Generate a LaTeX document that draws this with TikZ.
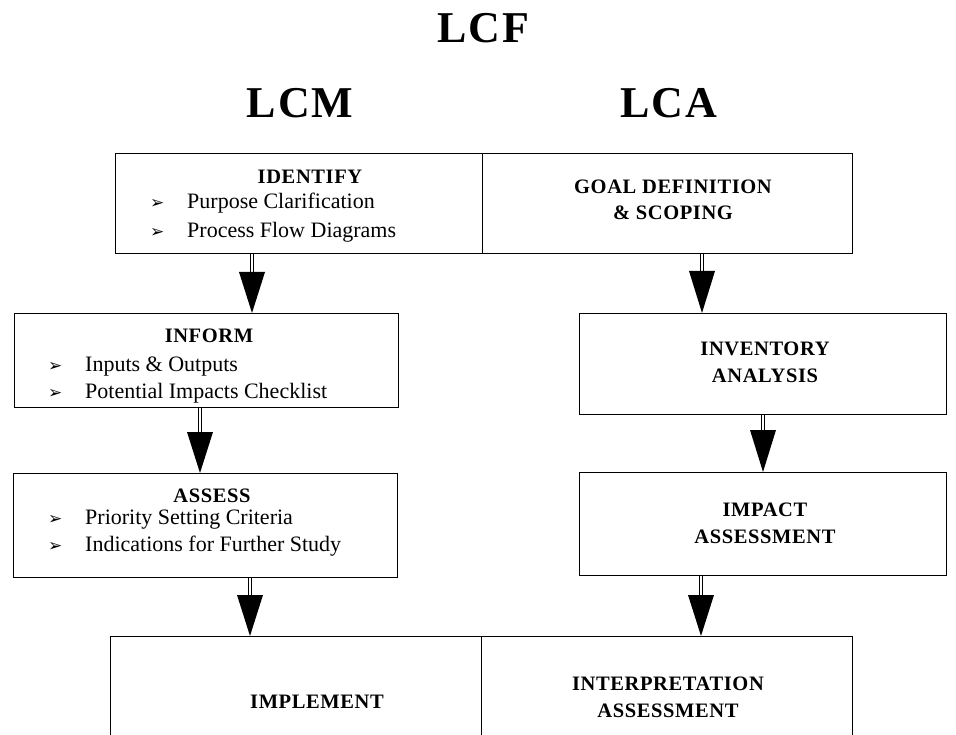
\documentclass[tikz,border=0pt]{standalone}
\usepackage{fontspec}
\setmainfont{Liberation Serif}
\newfontfamily\symfont{DejaVu Sans}
\usetikzlibrary{calc}
\tikzset{
  box/.style={draw, line width=1.3pt, inner sep=0pt, anchor=north west},
  bigtitle/.style={font=\fontsize{44}{48}\selectfont\bfseries, inner sep=0pt},
  headtxt/.style={font=\fontsize{20.5}{26.5}\selectfont\bfseries\addfontfeatures{LetterSpace=3}, inner sep=0pt, anchor=base, align=center},
  itemtxt/.style={font=\fontsize{22}{24}\selectfont, inner sep=0pt, anchor=base west},
  shaft/.style={double, double distance=2.6pt, line width=0.7pt},
  tiphead/.style={fill=black},
}
\newcommand{\bul}{\makebox[37pt][l]{\symfont\fontsize{17}{17}\selectfont ➢}}
\begin{document}
\begin{tikzpicture}[x=1pt,y=-1pt]
\clip (0,0) rectangle (956,735);
\useasboundingbox (0,0) rectangle (956,735);

% titles
\node[bigtitle] (lcf) at (483,28) {L\hspace{2pt}C\hspace{2pt}F};
\node[bigtitle] (lcm) at (300,103) {L\hspace{2pt}C\hspace{2pt}M};
\node[bigtitle] (lca) at (669,103) {L\hspace{2pt}C\hspace{2pt}A};

% boxes
\node[box, minimum width=367pt, minimum height=100pt] (identify) at (115,153) {};
\node[box, minimum width=370pt, minimum height=100pt] (goal) at (482,153) {};
\node[box, minimum width=384pt, minimum height=94pt] (inform) at (14,313) {};
\node[box, minimum width=384pt, minimum height=104pt] (assess) at (13,473) {};
\node[box, minimum width=367pt, minimum height=101pt] (inventory) at (579,313) {};
\node[box, minimum width=367pt, minimum height=103pt] (impact) at (579,472) {};
\node[box, minimum width=371pt, minimum height=130pt] (implement) at (110,636) {};
\node[box, minimum width=371pt, minimum height=130pt] (interpret) at (481,636) {};

% texts
\node[headtxt] (tid) at (310,184) {IDENTIFY};
\node[itemtxt] (tid1) at (150,209) {\bul Purpose Clarification};
\node[itemtxt] (tid2) at (150,238) {\bul Process Flow Diagrams};
\node[headtxt] (tgoal) at (673,220) {GOAL DEFINITION\\\& SCOPING};

\node[headtxt] (tinf) at (209,343) {INFORM};
\node[itemtxt] (tinf1) at (48,371) {\bul Inputs \& Outputs};
\node[itemtxt] (tinf2) at (48,398) {\bul Potential Impacts Checklist};

\node[headtxt] (tass) at (212,502) {ASSESS};
\node[itemtxt] (tass1) at (48,524) {\bul Priority Setting Criteria};
\node[itemtxt] (tass2) at (48,551) {\bul Indications for Further Study};

\node[headtxt] (tinv) at (765,382) {INVENTORY\\ANALYSIS};
\node[headtxt] (timp) at (765,543) {IMPACT\\ASSESSMENT};
\node[headtxt] (timpl) at (317,708) {IMPLEMENT};
\node[headtxt] (tint) at (668,717) {INTERPRETATION\\ASSESSMENT};

% connectors
\coordinate (h1) at (252,272);
\coordinate (h2) at (702,271);
\coordinate (h3) at (200,432);
\coordinate (h4) at (763,430);
\coordinate (h5) at (250,595);
\coordinate (h6) at (701,595);

\draw[shaft] (identify.south -| h1) -- (h1);
\fill[tiphead] ($(h1)+(-13,0)$) -- ($(h1)+(13,0)$) -- (inform.north -| h1) -- cycle;
\draw[shaft] (goal.south -| h2) -- (h2);
\fill[tiphead] ($(h2)+(-13,0)$) -- ($(h2)+(13,0)$) -- (inventory.north -| h2) -- cycle;
\draw[shaft] (inform.south -| h3) -- (h3);
\fill[tiphead] ($(h3)+(-13,0)$) -- ($(h3)+(13,0)$) -- (assess.north -| h3) -- cycle;
\draw[shaft] (inventory.south -| h4) -- (h4);
\fill[tiphead] ($(h4)+(-13,0)$) -- ($(h4)+(13,0)$) -- (impact.north -| h4) -- cycle;
\draw[shaft] (assess.south -| h5) -- (h5);
\fill[tiphead] ($(h5)+(-13,0)$) -- ($(h5)+(13,0)$) -- (implement.north -| h5) -- cycle;
\draw[shaft] (impact.south -| h6) -- (h6);
\fill[tiphead] ($(h6)+(-13,0)$) -- ($(h6)+(13,0)$) -- (interpret.north -| h6) -- cycle;
\end{tikzpicture}
\end{document}
